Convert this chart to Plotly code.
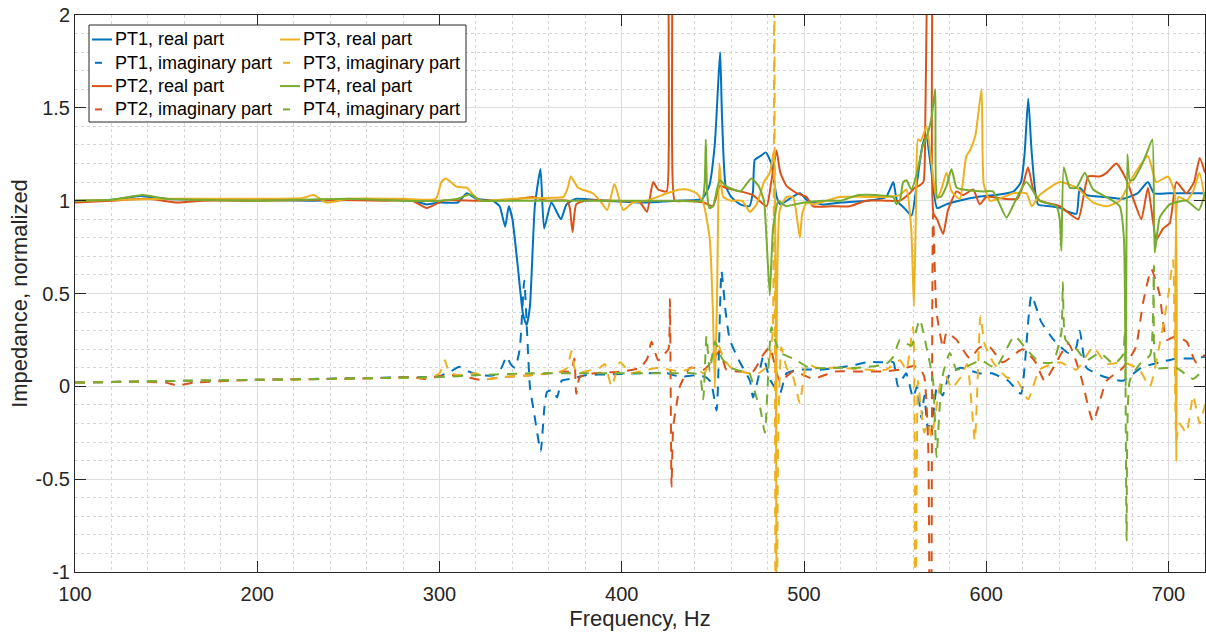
import plotly.graph_objects as go

# ---------------- data (frequency Hz, normalized impedance) ----------------
PT1_RE = [(100,1.0),(120,1.005),(136,1.025),(150,1.01),(175,1.005),(200,1.005),(230,1.0),(260,1.005),(285,1.0),(293,0.98),(300,0.99),(310,0.99),(315,1.04),(320,1.01),(329,1.0),(333,0.97),(336,0.86),(338,0.97),(340,0.9),(343,0.64),(345.8,0.39),(347.8,0.33),(349.6,0.43),(352.3,0.97),(355.4,1.17),(357.4,0.85),(361.4,0.99),(366.6,0.9),(369.7,0.98),(375,1.01),(390,1.0),(410,0.99),(430,1.0),(444,1.01),(448,1.08),(451,1.3),(453,1.65),(454,1.8),(455,1.45),(457,1.08),(460,1.02),(465,0.98),(470,0.97),(472,1.05),(473,1.22),(476,1.24),(479,1.26),(482,1.2),(485,1.02),(487,0.98),(492,1.01),(497.7,1.04),(502,1.0),(510,0.98),(520,0.99),(535,1.0),(545,1.02),(549,1.1),(551,1.0),(555,0.96),(559,0.92),(562,1.1),(565,1.3),(567,1.35),(570,1.15),(573,0.96),(578,0.98),(585,1.0),(595,1.02),(605,1.03),(615,1.05),(619,1.1),(621,1.25),(623,1.55),(625,1.25),(628.4,0.98),(635,0.97),(641,0.96),(645,0.94),(649.5,0.93),(651.3,1.07),(655,1.03),(665,1.02),(675,1.01),(683,1.04),(688.7,1.1),(692,1.04),(700,1.04),(710,1.04),(720,1.04)]

PT1_IM = [(100,0.02),(130,0.025),(160,0.03),(200,0.035),(230,0.04),(260,0.045),(290,0.05),(300,0.055),(306,0.08),(311,0.105),(316,0.08),(322,0.06),(330,0.06),(334,0.1),(336.8,0.16),(339,0.12),(341.4,0.1),(344,0.2),(346.5,0.57),(348,0.3),(349.6,0.0),(352,-0.15),(355.5,-0.35),(357.5,-0.12),(359,-0.03),(362,-0.02),(364.5,-0.06),(367,0.03),(372,0.04),(380,0.06),(395,0.065),(410,0.07),(425,0.07),(432,0.05),(440,0.06),(446,0.05),(449,0.02),(452,-0.13),(454.7,0.62),(457,0.4),(459.3,0.25),(464.8,0.13),(470.3,0.03),(472,-0.06),(475,0.05),(477.6,0.16),(481.2,0.04),(486.7,-0.04),(490.4,0.07),(497.7,0.09),(510,0.09),(525,0.11),(535,0.13),(543,0.13),(549,0.13),(551.5,0.0),(556,0.07),(559.8,-0.06),(562,0.0),(564.4,-0.17),(566,-0.05),(568,-0.23),(570.8,-0.15),(573,0.0),(576,-0.05),(580,0.07),(586,0.1),(596,0.07),(603,0.07),(612,0.03),(619,-0.04),(621,0.1),(624.8,0.49),(630,0.35),(637,0.25),(645,0.18),(649,0.2),(651.3,0.3),(655,0.1),(665,0.05),(675,0.03),(685,0.1),(695.2,0.13),(705,0.15),(713.5,0.15),(720,0.16)]

PT2_RE = [(100,0.99),(120,1.0),(140,1.01),(156,0.99),(170,1.0),(200,1.0),(240,1.005),(270,1.0),(285,1.0),(293,0.96),(302,1.0),(320,1.0),(340,1.005),(351,1.02),(359,1.0),(370,1.0),(371.5,0.96),(373,0.83),(375,0.98),(380,1.0),(395,1.0),(410,0.99),(413.8,0.94),(417.2,1.1),(420,1.06),(424.6,1.05),(425.8,1.3),(426.4,2.6),(427,2.6),(427.6,1.3),(429.1,1.0),(435,1.0),(445,0.99),(450,0.97),(453.8,1.08),(457,1.07),(465,1.05),(472,1.03),(479.4,0.97),(482,1.1),(484.9,1.27),(487,1.15),(490.4,1.08),(496,1.04),(501.4,1.02),(505,0.97),(515,0.97),(525,0.97),(534,1.0),(545,1.0),(552.6,1.0),(558,1.04),(560.8,1.07),(563,1.08),(565.5,1.1),(566.5,1.4),(567.5,2.2),(569,3.0),(570.3,2.2),(571,0.93),(573,0.9),(576.3,0.82),(579,0.95),(583.7,1.05),(587.3,1.03),(592.8,1.06),(596.4,0.98),(600,1.02),(610,1.01),(617,1.01),(620,1.08),(622.9,1.18),(626,1.05),(629.3,1.0),(640.3,0.97),(650.4,0.9),(655.9,1.13),(662.3,1.13),(666,1.15),(671.4,1.2),(677,1.11),(681,1.0),(685.1,0.9),(688.7,1.07),(693.3,0.79),(697,0.85),(700.7,0.88),(704.3,1.1),(709.8,1.04),(714,1.1),(717.1,1.23),(720,1.15)]

PT2_IM = [(100,0.02),(130,0.025),(150,0.02),(156,0.005),(165,0.02),(200,0.035),(240,0.04),(270,0.045),(285,0.05),(292,0.04),(300,0.055),(310,0.06),(322,0.035),(335,0.05),(350,0.06),(360,0.07),(368,0.08),(372,0.08),(374,0.15),(375,-0.04),(377,0.05),(385,0.07),(400,0.08),(410,0.1),(414,0.15),(416.3,0.24),(420,0.14),(423,0.17),(425.6,0.2),(426.4,0.47),(427.3,-0.54),(428.2,-0.22),(430,-0.1),(431.9,0.0),(437.4,0.1),(445,0.09),(448.3,0.12),(453.8,0.19),(457.4,0.09),(465,0.08),(472,0.08),(477.6,0.17),(481.2,0.21),(486.7,0.03),(494,0.08),(500,0.06),(505,0.04),(517,0.08),(530,0.08),(544,0.08),(552.6,0.09),(560,0.11),(564,0.09),(566,0.05),(568.1,-0.3),(569.5,-3.0),(570.8,0.93),(572.7,0.4),(576.3,0.21),(578.2,0.29),(583.7,0.25),(591,0.15),(596.4,0.21),(602,0.21),(609,0.13),(620,0.2),(627,0.13),(632,0.03),(645,0.23),(652,0.05),(658.6,-0.19),(666,0.03),(675,0.1),(682,0.21),(686,0.45),(690.6,0.63),(695,0.5),(699,0.25),(704,0.27),(710,0.24),(715,0.13),(720,0.17)]

PT3_RE = [(100,1.0),(150,1.01),(200,1.01),(225,1.015),(231,1.03),(238,0.99),(250,1.01),(280,1.01),(298,1.01),(301,1.1),(303.5,1.12),(309.4,1.075),(315,1.07),(319.4,1.02),(323,1.0),(340,1.01),(360,1.015),(368,1.02),(370.4,1.07),(372,1.13),(376,1.07),(384,1.04),(388,1.0),(392,0.95),(396,1.09),(400.8,0.95),(406,0.99),(413.6,1.0),(425,1.04),(432,1.06),(436,1.06),(441,1.04),(444.7,0.99),(448.3,0.79),(450,0.4),(451.1,-0.01),(452.3,0.5),(453.5,1.2),(455.6,1.02),(460,1.0),(466,1.0),(470.3,0.94),(474,0.98),(478,1.1),(481.2,1.15),(483.5,1.27),(484.4,0.5),(485.2,-2.0),(486.7,0.95),(490.4,1.02),(494,1.02),(497.7,0.8),(499,0.93),(501.4,0.99),(505,0.98),(519.6,1.02),(534,1.02),(545,1.02),(552.6,1.03),(556.2,1.06),(558.8,0.85),(560.3,0.43),(561.5,1.0),(562.5,1.33),(564,1.32),(567.2,1.4),(570,1.2),(572.7,1.01),(575,1.05),(578.2,1.15),(581,1.05),(585.5,1.01),(589,1.24),(591,1.27),(594,1.35),(597.4,1.6),(598.6,1.09),(602,1.0),(607,1.01),(614.7,1.04),(622,1.04),(625,0.97),(629.3,1.03),(640.3,1.1),(649.5,1.07),(658.6,0.99),(665.9,0.97),(673.2,1.0),(680.5,1.13),(688.7,1.24),(693.3,1.1),(699.7,1.13),(703.4,1.04),(704.3,-0.4),(705.5,1.02),(709.8,1.0),(713.5,1.05),(717,1.15),(720,1.0)]

PT3_IM = [(100,0.02),(130,0.025),(160,0.03),(200,0.035),(240,0.04),(270,0.045),(295,0.05),(300,0.07),(303,0.14),(305,0.08),(310,0.06),(320,0.07),(326,0.04),(335,0.05),(350,0.06),(366,0.08),(370,0.1),(372.4,0.19),(374,0.1),(376,0.07),(380,0.08),(388,0.1),(390.7,0.12),(394.4,0.0),(399,0.13),(405,0.07),(410,0.08),(420,0.1),(432,0.08),(440,0.1),(445,0.07),(448,0.12),(451,0.2),(453,0.22),(456,0.15),(460,0.1),(465,0.08),(470,0.07),(475,0.07),(479,0.1),(481,0.15),(482.8,0.3),(483.6,2.8),(484.6,-2.8),(485.8,-0.3),(487.6,0.21),(490.4,0.1),(494,0.05),(497.7,-0.09),(501.4,0.12),(507,0.1),(519.6,0.1),(534,0.09),(545,0.09),(552.6,0.14),(556.2,0.09),(559.8,0.32),(560.8,-2.5),(561.8,-0.5),(562.5,0.03),(564,-0.1),(566,-0.25),(568,-0.2),(570,-0.27),(572.7,-0.11),(575,0.02),(578,0.05),(581,-0.01),(586,0.05),(589.5,0.12),(593.7,-0.29),(596.8,0.38),(599,0.23),(603.7,0.13),(611,0.05),(617,0.03),(622.9,-0.07),(629.3,0.09),(640.3,0.13),(649.5,0.09),(658.6,0.21),(665.9,0.12),(675,0.13),(684,0.09),(689.7,0.0),(695.2,0.23),(700,0.5),(702.5,0.68),(704.3,-0.29),(706,-0.2),(709.8,-0.25),(713.5,-0.05),(717.1,-0.2),(720,-0.1)]

PT4_RE = [(100,1.0),(120,1.005),(137,1.03),(150,1.01),(200,1.0),(250,1.01),(280,1.0),(300,1.0),(310,1.01),(316.7,1.035),(323,1.0),(335,1.0),(360,1.0),(400,1.0),(430,1.0),(444,1.0),(445.5,1.1),(446.1,1.33),(446.8,1.05),(448,0.96),(450.1,0.97),(452,1.05),(453.8,1.11),(457,1.08),(465,1.05),(471,1.12),(475,1.08),(478,1.0),(479.4,0.8),(481.2,0.49),(483,0.85),(486,1.0),(490,0.97),(495,0.98),(500,0.99),(510,1.0),(520,1.0),(530,1.03),(540,1.03),(548.9,1.02),(550.7,0.98),(552.6,1.0),(554.4,1.1),(556.2,1.11),(558.9,1.06),(562,1.15),(565.3,1.3),(567.5,1.35),(570,1.45),(572,1.6),(573,1.02),(575,1.02),(578.2,1.08),(580.9,1.17),(583.7,1.07),(587,1.06),(598,1.05),(603.7,1.05),(611.1,0.91),(616,1.0),(622,1.1),(629.3,1.0),(638.5,0.97),(640.3,0.9),(641.2,0.73),(642.5,1.18),(645.8,1.07),(649.5,1.07),(654,1.15),(658.6,1.06),(667.7,1.01),(673.2,0.97),(675.5,0.8),(676.5,0.0),(677.4,1.25),(678.7,1.11),(680.5,1.11),(684.2,1.17),(687.8,1.25),(691.1,1.33),(692.4,0.72),(695.2,0.91),(700.7,0.98),(709.8,1.0),(716.6,0.95),(720,1.04)]

PT4_IM = [(100,0.02),(130,0.025),(160,0.03),(200,0.035),(240,0.04),(270,0.045),(300,0.05),(320,0.06),(350,0.07),(380,0.07),(400,0.07),(430,0.07),(440,0.07),(443,0.05),(444.7,-0.07),(446.5,0.27),(448.3,0.08),(451.1,0.24),(455,0.15),(460,0.1),(466,0.08),(470,0.07),(473.9,-0.06),(476,-0.12),(478.5,-0.25),(480.5,0.1),(482.1,0.32),(484,0.25),(487,0.18),(494,0.15),(503,0.1),(515,0.1),(530,0.1),(545,0.12),(549,0.16),(552.6,0.25),(556.2,0.23),(559,0.22),(563.5,0.36),(567.2,0.21),(570.8,0.03),(572.7,-0.38),(574.5,-0.1),(576.3,0.07),(580,0.18),(583.7,0.09),(590,0.11),(597,0.14),(605,0.1),(615.5,0.27),(622,0.2),(629.3,0.13),(636.5,0.13),(641.2,0.29),(642,0.56),(643.5,0.25),(649.5,0.2),(655,0.14),(662.3,0.18),(670,0.12),(675,0.17),(676,0.3),(677,-0.83),(678.7,0.03),(684.2,0.12),(690,0.17),(692,0.65),(693.3,0.1),(699.7,0.1),(704.3,0.1),(713.5,0.04),(720,0.1)]

SERIES = [
    ("PT1, real part", PT1_RE, "#0072BD", "solid"),
    ("PT1, imaginary part", PT1_IM, "#0072BD", "dash"),
    ("PT2, real part", PT2_RE, "#D95319", "solid"),
    ("PT2, imaginary part", PT2_IM, "#D95319", "dash"),
    ("PT3, real part", PT3_RE, "#EDB120", "solid"),
    ("PT3, imaginary part", PT3_IM, "#EDB120", "dash"),
    ("PT4, real part", PT4_RE, "#77AC30", "solid"),
    ("PT4, imaginary part", PT4_IM, "#77AC30", "dash"),
]

X_TICKS = [100, 200, 300, 400, 500, 600, 700]
Y_TICKS = [-1, -0.5, 0, 0.5, 1, 1.5, 2]
Y_TICK_TEXT = ["-1", "-0.5", "0", "0.5", "1", "1.5", "2"]

# ---------------- figure ----------------
W, H = 1206, 635
ML, MR, MT, MB = 75, 1, 15, 63
PW, PH = W - ML - MR, H - MT - MB
FONT = "Liberation Sans, Arial, Helvetica, sans-serif"
AX = "#262626"

fig = go.Figure()
for name, pts, color, dash in SERIES:
    fig.add_trace(go.Scatter(
        x=[p[0] for p in pts], y=[p[1] for p in pts], mode="lines", name=name,
        line=dict(color=color, width=2, shape="spline", smoothing=0.5,
                  dash="10px,8px" if dash == "dash" else "solid"),
        showlegend=False,
    ))

def px(xp):
    return (xp - ML) / PW

def py(yp):
    return (H - MB - yp) / PH

shapes = [dict(type="rect", xref="paper", yref="paper", layer="above",
               x0=px(89), x1=px(466), y0=py(122), y1=py(25),
               fillcolor="white", line=dict(color=AX, width=1))]
annotations = []
rows = [39.5, 62.8, 86.1, 109.4]
cols = [92, 280]
for i, (name, pts, color, dash) in enumerate(SERIES):
    c = cols[i // 4]
    r = rows[i % 4]
    if dash == "solid":
        x0, x1 = c, c + 20
    else:
        x0, x1 = c + 3, c + 10
    shapes.append(dict(type="line", xref="paper", yref="paper", layer="above",
                       x0=px(x0), x1=px(x1), y0=py(r), y1=py(r),
                       line=dict(color=color, width=2)))
    annotations.append(dict(xref="paper", yref="paper", x=px(c + 21), y=py(r),
                            xanchor="left", yanchor="middle", showarrow=False,
                            text=name, font=dict(family=FONT, size=18, color="black")))

axis_common = dict(
    showline=True, linecolor=AX, linewidth=1, mirror="ticks",
    ticks="inside", ticklen=11, tickwidth=1, tickcolor=AX,
    showgrid=True, gridcolor="#dedede", gridwidth=1, zeroline=False,
    tickfont=dict(family=FONT, size=20, color=AX), automargin=False,
)

fig.update_layout(
    width=W, height=H,
    margin=dict(l=ML, r=MR, t=MT, b=MB),
    paper_bgcolor="white", plot_bgcolor="white",
    font=dict(family=FONT, color=AX),
    showlegend=False,
    shapes=shapes, annotations=annotations,
    xaxis=dict(range=[100, 720], tickvals=X_TICKS, **axis_common,
               ticklabelstandoff=4,
               minor=dict(dtick=20, tick0=100, showgrid=True, gridcolor="#d6d6d6",
                          griddash="dot", gridwidth=1, ticks=""),
               title=dict(text="Frequency, Hz", font=dict(family=FONT, size=22, color=AX),
                          standoff=6)),
    yaxis=dict(range=[-1, 2], tickvals=Y_TICKS, ticktext=Y_TICK_TEXT, **axis_common,
               minor=dict(dtick=0.1, tick0=0, showgrid=True, gridcolor="#d6d6d6",
                          griddash="dot", gridwidth=1, ticks=""),
               title=dict(text="Impedance, normalized", font=dict(family=FONT, size=22, color=AX),
                          standoff=1)),
)

fig.write_html("out.html", config={"displayModeBar": False},
               post_script="document.body.style.margin='0px';document.body.style.overflow='hidden';")
